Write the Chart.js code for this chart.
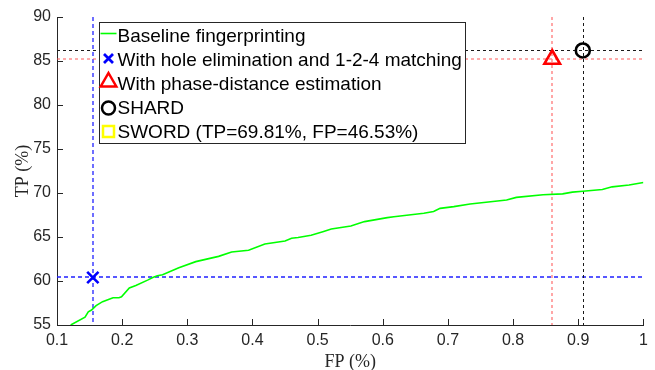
<!DOCTYPE html>
<html>
<head>
<meta charset="utf-8">
<script src="https://cdn.jsdelivr.net/npm/chart.js@4/dist/chart.umd.min.js"></script>
<style>
html,body{margin:0;padding:0;background:#fff;}
#wrap{width:655px;height:370px;}
</style>
</head>
<body>
<div id="wrap"><canvas id="c" width="655" height="370"></canvas></div>
<script>
// ---- data ----
const baselineFP = [0.121,0.143,0.148,0.153,0.160,0.170,0.186,0.195,0.199,0.211,0.221,0.239,0.247,0.254,0.262,0.287,0.313,0.348,0.368,0.394,0.419,0.450,0.460,0.470,0.490,0.508,0.521,0.551,0.572,0.607,0.617,0.663,0.678,0.688,0.709,0.734,0.790,0.805,0.846,0.876,0.891,0.907,0.937,0.952,0.978,1.0];
const baselineTP = [55.0,55.9,56.5,56.7,57.2,57.65,58.1,58.1,58.2,59.2,59.5,60.1,60.4,60.6,60.7,61.5,62.2,62.8,63.3,63.5,64.2,64.55,64.85,64.95,65.2,65.6,65.9,66.25,66.75,67.2,67.3,67.7,67.9,68.25,68.45,68.75,69.2,69.5,69.8,69.9,70.1,70.2,70.4,70.7,70.9,71.2];

const seriesNames = ['Baseline fingerprinting','With hole elimination and 1-2-4 matching','With phase-distance estimation','SHARD','SWORD (TP=69.81%, FP=46.53%)'];
const markerFP = [0.155, 0.86, 0.907];
const markerTP = [60.4, 85.2, 86.2];

const xTicks = [0.1,0.2,0.3,0.4,0.5,0.6,0.7,0.8,0.9,1];
const yTicks = [55,60,65,70,75,80,85,90];
const xTitle = 'FP (%)';
const yTitle = 'TP (%)';

// ---- styles ----
const markerColors = ['#0000ff','#ff0000','#000000'];
const markerStyles = ['crossRot','triangle','circle'];
const markerRadius = [8, 9, 7];
const guideColors = ['#2020ff','rgba(255,70,70,0.6)','#1a1a1a'];
const guideWidths = [1.3, 1.6, 1];
const guideCrisp = [false, false, true];
const guideDash = [[4,3],[3,3],[3,3]];
const AX = '#262626';

const xMin = xTicks[0], xMax = xTicks[xTicks.length-1];
const yMin = yTicks[0], yMax = yTicks[yTicks.length-1];

const datasets = [];
datasets.push({
  label: seriesNames[0],
  data: baselineFP.map((x,i)=>({x:x,y:baselineTP[i]})),
  showLine: true, borderColor:'#00ff00', borderWidth:1.6, pointRadius:0, tension:0, order:1
});
for (let i=0;i<markerFP.length;i++){
  datasets.push({
    label: seriesNames[i+1],
    data:[{x:markerFP[i],y:markerTP[i]}],
    showLine:false, pointStyle:markerStyles[i], pointRadius:markerRadius[i],
    pointBorderColor:markerColors[i], borderColor:markerColors[i], pointBackgroundColor:'rgba(0,0,0,0)', backgroundColor:'rgba(0,0,0,0)', pointBorderWidth:2.6, order:0
  });
}
datasets.push({label:seriesNames[4], data:[], pointStyle:'rect', borderColor:'#ffff00', order:0});

// dashed guide lines through each marker, positioned with the chart's scales
const guideLines = {
  id:'guideLines',
  beforeDatasetsDraw(chart){
    const ctx = chart.ctx, a = chart.chartArea, xs = chart.scales.x, ys = chart.scales.y;
    ctx.save();
    ctx.beginPath(); ctx.rect(a.left, a.top, a.right-a.left, a.bottom-a.top); ctx.clip();
    for (let i=0;i<markerFP.length;i++){
      const off = guideCrisp[i] ? 0.5 : 0;
      const px = Math.round(xs.getPixelForValue(markerFP[i])) + off;
      const py = Math.round(ys.getPixelForValue(markerTP[i])) + off;
      ctx.strokeStyle = guideColors[i];
      ctx.lineWidth = guideWidths[i];
      ctx.setLineDash(guideDash[i]);
      ctx.beginPath();
      ctx.moveTo(px, ys.getPixelForValue(yMax)); ctx.lineTo(px, ys.getPixelForValue(yMin));
      ctx.moveTo(xs.getPixelForValue(xMin), py); ctx.lineTo(xs.getPixelForValue(xMax), py);
      ctx.stroke();
    }
    ctx.restore();
  }
};

const inwardTicks = {
  id:'inwardTicks',
  afterDraw(chart){
    const ctx = chart.ctx, a = chart.chartArea, xs = chart.scales.x, ys = chart.scales.y;
    ctx.save();
    ctx.strokeStyle = AX; ctx.lineWidth = 1;
    ctx.beginPath();
    xTicks.forEach(v=>{ const px = Math.round(xs.getPixelForValue(v))+0.5; ctx.moveTo(px,a.bottom); ctx.lineTo(px,a.bottom-6); });
    yTicks.forEach(v=>{ const py = Math.round(ys.getPixelForValue(v))+0.5; ctx.moveTo(a.left,py); ctx.lineTo(a.left+6,py); });
    ctx.stroke();
    ctx.restore();
  }
};

function drawSym(ctx, kind, cx, cy){
  ctx.save();
  ctx.lineWidth = 2.5;
  ctx.beginPath();
  if (kind==='line'){ ctx.strokeStyle='#00ff00'; ctx.lineWidth=1.6; ctx.moveTo(cx-8,cy); ctx.lineTo(cx+8,cy); }
  else if (kind==='x'){ ctx.strokeStyle='#0000ff'; ctx.lineWidth=2.8; const d=4.5; ctx.moveTo(cx-d,cy-d); ctx.lineTo(cx+d,cy+d); ctx.moveTo(cx+d,cy-d); ctx.lineTo(cx-d,cy+d); }
  else if (kind==='tri'){ ctx.strokeStyle='#ff0000'; const r=9; ctx.moveTo(cx,cy-r); ctx.lineTo(cx+r*0.866,cy+r/2); ctx.lineTo(cx-r*0.866,cy+r/2); ctx.closePath(); }
  else if (kind==='circ'){ ctx.strokeStyle='#000000'; ctx.arc(cx,cy,6.5,0,Math.PI*2); }
  else if (kind==='sq'){ ctx.strokeStyle='#ffff00'; ctx.rect(cx-5.5,cy-5.5,11,11); }
  ctx.stroke();
  ctx.restore();
}

const boxLegend = {
  id:'boxLegend',
  afterDraw(chart){
    const ctx = chart.ctx;
    const L=99.5, T=22.5, R=465.5, B=143.5;
    ctx.save();
    ctx.fillStyle='#ffffff';
    ctx.fillRect(L,T,R-L,B-T);
    ctx.strokeStyle=AX; ctx.lineWidth=1;
    ctx.strokeRect(L,T,R-L,B-T);
    const kinds=['line','x','tri','circ','sq'];
    const symY=[33.5,58.5,82,108,131.5];
    ctx.font='19px "Liberation Sans", Arial, sans-serif';
    ctx.fillStyle='#000000';
    ctx.textBaseline='alphabetic';
    ctx.textAlign='left';
    for (let i=0;i<seriesNames.length;i++){
      drawSym(ctx,kinds[i],108.5,symY[i]);
      ctx.fillText(seriesNames[i],117.5,42.3+24*i);
    }
    ctx.restore();
  }
};

new Chart(document.getElementById('c'),{
  type:'scatter',
  data:{datasets:datasets},
  options:{
    responsive:false, animation:false, devicePixelRatio:1,
    layout:{padding:{top:17,right:7,left:0,bottom:0}},
    plugins:{legend:{display:false}, tooltip:{enabled:false}},
    scales:{
      x:{type:'linear', min:xMin, max:xMax,
        afterBuildTicks:s=>{s.ticks = xTicks.map(v=>({value:v}));},
        afterFit:s=>{s.height=45;},
        grid:{display:false, drawTicks:false},
        border:{display:true,color:AX,width:1},
        ticks:{color:AX,font:{family:'"Liberation Sans", Arial, sans-serif',size:16},padding:6,maxRotation:0,autoSkip:false,callback:v=>String(v)},
        title:{display:true,text:xTitle,color:AX,font:{family:'"Liberation Serif", "Times New Roman", serif',size:18},padding:{top:0,bottom:-3}}
      },
      y:{type:'linear', min:yMin, max:yMax,
        afterBuildTicks:s=>{s.ticks = yTicks.map(v=>({value:v}));},
        afterFit:s=>{s.width=57;},
        grid:{display:false, drawTicks:false},
        border:{display:true,color:AX,width:1},
        ticks:{color:AX,font:{family:'"Liberation Sans", Arial, sans-serif',size:16},padding:6,autoSkip:false,callback:v=>String(v)},
        title:{display:true,text:yTitle,color:AX,font:{family:'"Liberation Serif", "Times New Roman", serif',size:18},padding:{top:12,bottom:0}}
      }
    }
  },
  plugins:[guideLines, inwardTicks, boxLegend]
});
</script>
</body>
</html>
